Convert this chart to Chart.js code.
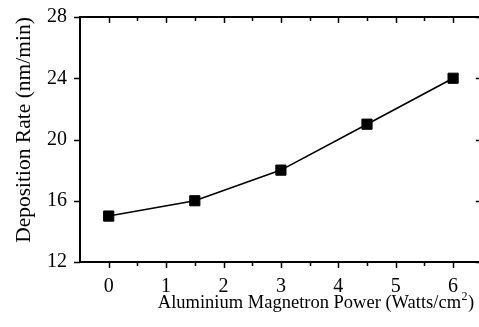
<!DOCTYPE html>
<html><head><meta charset="utf-8">
<script src="https://cdn.jsdelivr.net/npm/chart.js@4.4.1/dist/chart.umd.min.js"></script>
<style>
html,body{margin:0;padding:0;overflow:hidden;background:#fff;width:479px;height:327px}
#wrap{position:relative;width:479px;height:327px;overflow:hidden}
canvas{display:block}
</style>
</head><body><div id="wrap"><canvas id="c" width="490" height="327"></canvas></div>
<script>
// Data
const powers = [0, 1.5, 3, 4.5, 6];
const rates = [15, 16, 18, 21, 24];
const xTicks = [0, 1, 2, 3, 4, 5, 6];
const xMinorTicks = [0.5, 1.5, 2.5, 3.5, 4.5, 5.5];
const yTicks = [12, 16, 20, 24, 28];
const xTitleMain = 'Aluminium Magnetron Power (Watts/cm';
const xTitleSup = '2';
const xTitleEnd = ')';
const yTitle = 'Deposition Rate (nm/min)';

const FONT = "'Liberation Serif', 'Times New Roman', serif";

const framePlugin = {
  id: 'frame',
  afterDraw(chart) {
    const { ctx, chartArea: a, scales: { x, y } } = chart;
    ctx.save();
    ctx.strokeStyle = '#000';
    ctx.lineWidth = 2;
    ctx.strokeRect(a.left, a.top, a.right - a.left, a.bottom - a.top);
    ctx.lineWidth = 1.5;
    ctx.beginPath();
    xTicks.forEach(v => {
      const px = Math.round(x.getPixelForValue(v)) + 0.5;
      ctx.moveTo(px, a.bottom); ctx.lineTo(px, a.bottom + 6);
      ctx.moveTo(px, a.top); ctx.lineTo(px, a.top + 6);
    });
    xMinorTicks.forEach(v => {
      const px = Math.round(x.getPixelForValue(v)) + 0.5;
      ctx.moveTo(px, a.bottom); ctx.lineTo(px, a.bottom + 4);
      ctx.moveTo(px, a.top); ctx.lineTo(px, a.top + 4);
    });
    yTicks.forEach(v => {
      const py = Math.round(y.getPixelForValue(v)) + 0.5;
      ctx.moveTo(a.left - 6, py); ctx.lineTo(a.left, py);
      ctx.moveTo(a.right - 6, py); ctx.lineTo(a.right, py);
    });
    ctx.stroke();

    // axis titles
    ctx.fillStyle = '#000';
    ctx.textBaseline = 'alphabetic';
    const big = '18.5px ' + FONT, small = '12px ' + FONT;
    ctx.font = big;
    const w1 = ctx.measureText(xTitleMain).width;
    const w3 = ctx.measureText(xTitleEnd).width;
    ctx.font = small;
    const w2 = ctx.measureText(xTitleSup).width;
    const total = w1 + w2 + w3 + 1;
    const cx = 316, by = 308;
    const sx = cx - total / 2;
    ctx.textAlign = 'left';
    ctx.font = big;
    ctx.fillText(xTitleMain, sx, by);
    ctx.font = small;
    ctx.fillText(xTitleSup, sx + w1 + 0.5, by - 8);
    ctx.font = big;
    ctx.fillText(xTitleEnd, sx + w1 + w2 + 1, by);

    ctx.translate(30, 130);
    ctx.rotate(-Math.PI / 2);
    ctx.textAlign = 'center';
    ctx.font = '21.5px ' + FONT;
    ctx.fillText(yTitle, 0, 0);
    ctx.restore();
  }
};

new Chart(document.getElementById('c'), {
  type: 'scatter',
  data: {
    datasets: [{
      data: powers.map((p, i) => ({ x: p, y: rates[i] })),
      showLine: true,
      borderColor: '#000',
      borderWidth: 1.6,
      pointStyle: 'rect',
      pointRadius: 7.2,
      pointHoverRadius: 7.2,
      pointBackgroundColor: '#000',
      pointBorderColor: '#000',
      pointBorderWidth: 1,
      tension: 0
    }]
  },
  options: {
    responsive: false,
    animation: false,
    events: [],
    layout: { padding: { top: 17, right: 8, left: 0, bottom: 0 } },
    plugins: { legend: { display: false }, tooltip: { enabled: false } },
    scales: {
      x: {
        type: 'linear', min: -0.5, max: 6.5,
        grid: { display: false, drawTicks: false },
        border: { display: false },
        afterBuildTicks: s => { s.ticks = xTicks.map(v => ({ value: v })); },
        afterFit: s => { s.height = 65; s.paddingLeft = 0; s.paddingRight = 0; },
        ticks: { color: '#000', padding: 13, font: { family: FONT, size: 20 } }
      },
      y: {
        type: 'linear', min: 12, max: 28,
        grid: { display: false, drawTicks: false },
        border: { display: false },
        afterBuildTicks: s => { s.ticks = yTicks.map(v => ({ value: v })); },
        afterFit: s => { s.width = 80; s.paddingTop = 0; s.paddingBottom = 0; },
        ticks: { color: '#000', padding: 13, font: { family: FONT, size: 20 } }
      }
    }
  },
  plugins: [framePlugin]
});
</script>
</body></html>
